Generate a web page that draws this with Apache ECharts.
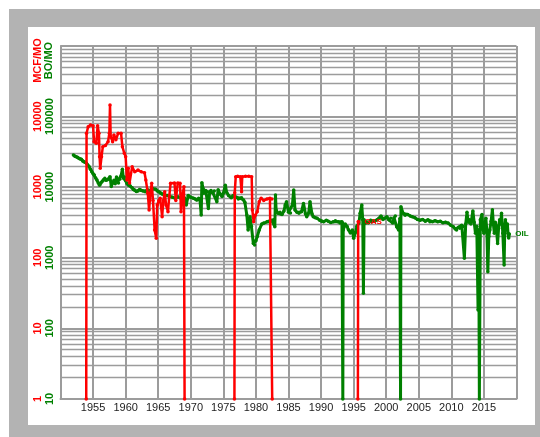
<!DOCTYPE html>
<html>
<head>
<meta charset="utf-8">
<script src="https://cdn.jsdelivr.net/npm/echarts@6/dist/echarts.min.js"></script>
<style>
  html, body { margin: 0; padding: 0; background: #fff; }
  #frame { position: absolute; left: 9px; top: 9px; width: 531px; height: 428px; background: #b3b3b3; }
  #inner { position: absolute; left: 28px; top: 27px; width: 507px; height: 398px; background: #fff; }
  #chart { position: absolute; left: 0; top: 0; width: 540px; height: 437px; }
</style>
</head>
<body>
<div id="frame"></div>
<div id="inner"></div>
<div id="chart"></div>
<script>
// gas production, MCF/MO (1 = dropped to zero, null = no data)
const gasYears = [
  1953.95, 1954.0, 1954.25, 1954.6, 1955.0, 1955.15, 1955.5, 1955.7, 1955.9, 1956.0,
  1956.1, 1956.3, 1956.5, 1956.9, 1957.3, 1957.5, 1957.6, 1957.7, 1958.0, 1958.2,
  1958.5, 1958.85, 1959.3, 1959.5, 1959.8, 1960.0, 1960.2, 1960.4, 1960.6, 1961.0,
  1961.4, 1961.9, 1962.4, 1962.9, 1963.1, 1963.4, 1963.6, 1963.8, 1964.0, 1964.2,
  1964.45, 1964.7, 1964.85, 1965.1, 1965.3, 1965.6, 1965.8, 1966.0, 1966.2, 1966.5,
  1966.7, 1966.9, 1967.5, 1967.7, 1968.0, 1968.35, 1968.5, 1968.7, 1968.95, 1969.05,
  1972.0,
  1976.7, 1976.75, 1976.9, 1977.2, 1977.6, 1977.8, 1977.9, 1978.4, 1978.9, 1979.35,
  1979.45, 1979.65, 1979.9, 1980.2, 1980.5, 1980.8, 1981.2, 1981.7, 1982.15, 1982.45,
  1982.5,
  1990.0,
  1995.65, 1995.7, 1995.75
];
const gasValues = [
  1, 5800, 7200, 7600, 7400, 4420, 4200, 7400, 5800, 2710,
  1850, 2710, 3750, 3900, 4420, 5800, 14600, 5200, 4420, 5500,
  4700, 5800, 5800, 3750, 3020, 2710, 1265, 1850, 1150, 1950,
  1650, 1750, 1650, 1600, 1265, 820, 475, 820, 1135, 650,
  248, 189, 560, 650, 700, 383, 650, 865, 560, 450,
  750, 1135, 1150, 650, 1150, 1135, 450, 750, 1014, 1,
  null,
  1, 837, 1410, 1430, 1410, 865, 1410, 1430, 1430, 1410,
  475, 325, 400, 450, 623, 700, 650, 680, 700, 680,
  1,
  null,
  1, 325, 325
];

// oil production, BO/MO (10 = dropped to zero)
const oilYears = [
  1951.98, 1952.2, 1952.4, 1952.6, 1952.8, 1953.0, 1953.2, 1953.4, 1953.6, 1953.8,
  1954.0, 1954.2, 1954.4, 1954.6, 1954.8, 1955.0, 1955.2, 1955.4, 1955.6, 1955.8,
  1956.0, 1956.2, 1956.4, 1956.6, 1956.8, 1957.0, 1957.2, 1957.4, 1957.6, 1957.8,
  1958.0, 1958.2, 1958.4, 1958.6, 1958.8, 1958.9, 1959.1, 1959.3, 1959.5, 1959.65,
  1959.8, 1960.0, 1960.2, 1960.45, 1960.7, 1961.0, 1961.2, 1961.4, 1961.65, 1961.9,
  1962.15, 1962.4, 1962.7, 1963.0, 1963.4, 1963.8, 1964.2, 1964.6, 1964.85, 1965.1,
  1965.35, 1965.6, 1966.0, 1966.4, 1966.8, 1967.2, 1967.6, 1968.0, 1968.4, 1968.8,
  1969.05, 1969.3, 1969.6, 1970.0, 1970.4, 1970.7, 1970.9, 1971.2, 1971.4, 1971.6,
  1971.7, 1971.9, 1972.0, 1972.3, 1972.5, 1972.7, 1972.9, 1973.1, 1973.4, 1973.6,
  1974.0, 1974.2, 1974.5, 1974.8, 1975.0, 1975.3, 1975.5, 1975.8, 1976.2, 1976.5,
  1976.7, 1977.0, 1977.3, 1977.6, 1977.8, 1978.1, 1978.3, 1978.6, 1978.8, 1979.0,
  1979.1, 1979.3, 1979.6, 1979.8, 1980.0, 1980.2, 1980.5, 1980.9, 1981.2, 1981.7,
  1982.0, 1982.4, 1982.7, 1982.9, 1983.0, 1983.1, 1983.4, 1983.7, 1984.0, 1984.3,
  1984.5, 1984.7, 1985.0, 1985.3, 1985.6, 1985.8, 1986.0, 1986.3, 1986.6, 1987.0,
  1987.3, 1987.6, 1987.8, 1988.1, 1988.3, 1988.6, 1988.8, 1989.1, 1989.4, 1989.8,
  1990.1, 1990.4, 1990.8, 1991.1, 1991.5, 1991.9, 1992.2, 1992.6, 1992.9, 1993.2,
  1993.3, 1993.34, 1993.4, 1993.7, 1994.0, 1994.2, 1994.5, 1994.8, 1995.0, 1995.3,
  1995.5, 1995.8, 1996.0, 1996.25, 1996.4, 1996.5, 1996.6, 1996.8, 1997.0, 1997.3,
  1997.6, 1997.8, 1998.2, 1998.6, 1998.9, 1999.2, 1999.5, 1999.7, 2000.1, 2000.4,
  2000.7, 2001.0, 2001.2, 2001.4, 2001.6, 2001.9, 2002.1, 2002.2, 2002.26, 2002.6,
  2002.9, 2003.3, 2003.7, 2004.0, 2004.4, 2004.8, 2005.2, 2005.6, 2006.0, 2006.4,
  2006.7, 2007.1, 2007.5, 2007.9, 2008.3, 2008.7, 2009.1, 2009.5, 2009.9, 2010.3,
  2010.6, 2010.8, 2011.1, 2011.3, 2011.6, 2011.8, 2012.0, 2012.2, 2012.4, 2012.6,
  2012.8, 2013.0, 2013.3, 2013.5, 2013.7, 2013.9, 2014.1, 2014.2, 2014.3, 2014.45,
  2014.7, 2014.85, 2015.0, 2015.15, 2015.3, 2015.45, 2015.6, 2015.75, 2015.9, 2016.1,
  2016.3, 2016.45, 2016.6, 2016.75, 2016.9, 2017.1, 2017.25, 2017.4, 2017.55, 2017.7,
  2017.9, 2018.1, 2018.2, 2018.3, 2018.5, 2018.6, 2018.7, 2018.8, 2018.9
];
const oilValues = [
  28600, 27500, 27000, 26500, 25800, 25000, 24800, 23500, 23000, 22500,
  21800, 20500, 19500, 18000, 16600, 15500, 14900, 13500, 12650, 11500,
  10700, 11500, 12000, 12800, 13400, 12500, 12800, 13200, 14100, 10200,
  11800, 12500, 11200, 14000, 12200, 11500, 13000, 14500, 17900, 13500,
  14000, 12300, 11300, 10700, 10400, 9800, 9300, 9130, 8700, 8800,
  9300, 9000, 8800, 8650, 9100, 9000, 9500, 9330, 8800, 8600,
  8300, 8010, 7800, 7600, 7400, 7180, 7000, 7300, 7100, 7600,
  6970, 5600, 7600, 7200, 7000, 6800, 6590, 7000, 6800, 4040,
  11600, 9500, 8200, 9000, 8600, 5000, 8600, 9000, 8300, 8800,
  6240, 9200, 8000, 7400, 8200, 10700, 8500, 7600, 7100, 7600,
  7400, 7200, 6800, 7000, 7100, 6600, 6100, 4040, 2480, 3200,
  3830, 2800, 1600, 1520, 1750, 2000, 2480, 3010, 3100, 3240,
  3250, 3400, 3450, 2760, 7750, 4750, 4260, 4400, 4100, 4600,
  5600, 6240, 4400, 4300, 5600, 9160, 4750, 4400, 4260, 4500,
  5900, 4200, 3830, 4300, 6240, 4200, 3820, 3700, 3620, 3400,
  3300, 3240, 3400, 3300, 3150, 3250, 3350, 3250, 3100, 3250,
  3100, 10, 2480, 3000, 2770, 2500, 2240, 2480, 1890, 2300,
  2800, 3100, 4260, 5600, 3450, 314, 3450, 3100, 3240, 3140,
  3400, 3250, 3300, 3450, 3600, 3910, 3500, 3620, 3800, 3450,
  3620, 3100, 3700, 3910, 2760, 2480, 3600, 10, 5300, 4260,
  4000, 4100, 3900, 3800, 3700, 3500, 3400, 3500, 3300, 3450,
  3250, 3250, 3350, 3250, 3300, 3140, 3200, 3100, 2900, 2760,
  2550, 2480, 2700, 2620, 2900, 2770, 982, 3000, 4400, 3200,
  3450, 3000, 4600, 3200, 2220, 2800, 182, 2500, 10, 3450,
  4100, 2600, 2220, 3000, 3620, 2400, 637, 2000, 2480, 3300,
  4800, 3000, 2220, 3200, 2770, 1600, 2600, 3450, 3000, 4260,
  2220, 790, 2600, 3450, 2480, 3000, 2220, 1900, 2170
];

const decades = [1, 10, 100, 1000, 10000];
const minorSteps = [2, 3, 4, 5, 6, 7, 8, 9];

const GAS = '#ff0000';
const OIL = '#008000';
const GRID = '#9c9c9c';

const gasData = gasYears.map((y, i) => [y, gasValues[i] == null ? '-' : gasValues[i]]);
const oilData = oilYears.map((y, i) => [y, oilValues[i]]);
const minorLines = [];
decades.forEach(d => minorSteps.forEach(m => minorLines.push({ yAxis: d * m * 10 })));

const plain = v => String(Math.round(v));

const chart = echarts.init(document.getElementById('chart'), null, { renderer: 'canvas' });
chart.setOption({
  animation: false,
  grid: { left: 60.5, right: 23.5, top: 46, bottom: 38 },
  xAxis: {
    type: 'value', min: 1950, max: 2020, interval: 5,
    axisLine: { lineStyle: { color: GRID, width: 2 } },
    axisTick: { show: false },
    axisLabel: {
      color: '#222', fontSize: 11, fontFamily: 'Liberation Sans', margin: 3,
      showMinLabel: false, showMaxLabel: false, formatter: plain,
    },
    splitLine: { lineStyle: { color: GRID, width: 2 } },
  },
  yAxis: [
    {
      type: 'log', logBase: 10, min: 1, max: 100000,
      axisLine: { show: true, lineStyle: { color: GRID, width: 2 } },
      axisTick: { show: false },
      axisLabel: {
        color: GAS, fontSize: 11, fontWeight: 'bold', fontFamily: 'Liberation Sans',
        rotate: 90, margin: 17, showMaxLabel: false, formatter: plain,
      },
      splitLine: { lineStyle: { color: GRID, width: 2 } },
    },
    {
      type: 'log', logBase: 10, min: 10, max: 1000000, position: 'left',
      axisLine: { show: false }, axisTick: { show: false }, splitLine: { show: false },
      axisLabel: {
        color: OIL, fontSize: 11, fontWeight: 'bold', fontFamily: 'Liberation Sans',
        rotate: 90, margin: 5.5, showMaxLabel: false, formatter: plain,
      },
    },
  ],
  graphic: [
    { type: 'text', x: 37.7, y: 60.5, rotation: Math.PI / 2,
      style: { text: 'MCF/MO', fill: GAS, font: 'bold 11px "Liberation Sans"', align: 'center', verticalAlign: 'middle' } },
    { type: 'text', x: 49.3, y: 60.5, rotation: Math.PI / 2,
      style: { text: 'BO/MO', fill: OIL, font: 'bold 11px "Liberation Sans"', align: 'center', verticalAlign: 'middle' } },
  ],
  series: [
    {
      name: 'OIL', type: 'line', yAxisIndex: 1, data: oilData, z: 9,
      symbol: 'circle', symbolSize: 3.5, showSymbol: true,
      lineStyle: { color: OIL, width: 3 }, itemStyle: { color: OIL },
      endLabel: { show: true, formatter: 'OIL', color: OIL, fontSize: 8, fontWeight: 'bold', fontFamily: 'Liberation Sans', distance: 6 },
      markLine: {
        silent: true, symbol: ['none', 'none'], label: { show: false }, z: 1,
        lineStyle: { color: GRID, width: 1.3, type: 'solid' },
        data: minorLines,
      },
    },
    {
      name: 'GAS', type: 'line', yAxisIndex: 0, data: gasData, z: 10,
      symbol: 'circle', symbolSize: 3.5, showSymbol: true,
      lineStyle: { color: GAS, width: 2.5 }, itemStyle: { color: GAS },
      endLabel: { show: true, formatter: 'GAS', color: GAS, fontSize: 8, fontWeight: 'bold', fontFamily: 'Liberation Sans', distance: 6 },
    },
  ],
});
</script>
</body>
</html>
